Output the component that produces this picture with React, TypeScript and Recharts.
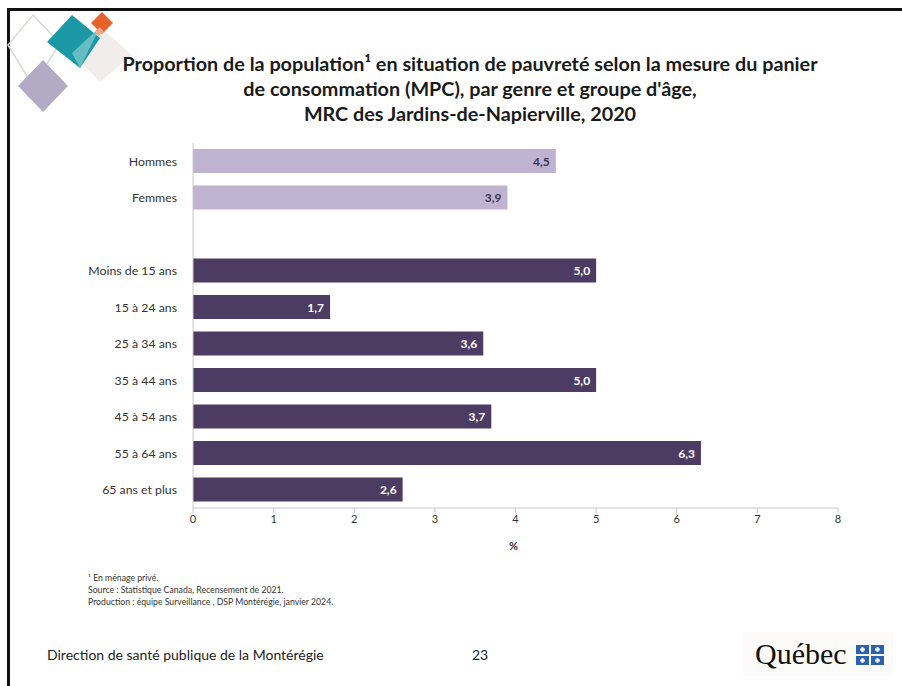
import React from "react";
import { BarChart, Bar, XAxis, YAxis, Cell, LabelList } from "recharts";

const categories = [
  "Hommes",
  "Femmes",
  "",
  "Moins de 15 ans",
  "15 à 24 ans",
  "25 à 34 ans",
  "35 à 44 ans",
  "45 à 54 ans",
  "55 à 64 ans",
  "65 ans et plus",
];
const values = [4.5, 3.9, null, 5.0, 1.7, 3.6, 5.0, 3.7, 6.3, 2.6];
const groups = ["genre", "genre", "", "age", "age", "age", "age", "age", "age", "age"];
const xTicks = [0, 1, 2, 3, 4, 5, 6, 7, 8];

const LIGHT = "#c0b2d1";
const DARK = "#4c3b63";
const FONT = "Lato, 'Open Sans', sans-serif";

const data = categories.map((name, i) => ({ name, value: values[i], group: groups[i] }));

const ValueLabel = (props: any) => {
  const { x, y, width, height, value, index } = props;
  if (value == null) return null;
  const light = data[index].group === "genre";
  return (
    <text
      x={x + width - 6}
      y={y + height / 2}
      textAnchor="end"
      dominantBaseline="central"
      fontFamily={FONT}
      fontSize={12}
      fontWeight="bold"
      fill={light ? "#3d3748" : "#ffffff"}
    >
      {value.toFixed(1).replace(".", ",")}
    </text>
  );
};

function Decor() {
  return (
    <svg width={150} height={120} style={{ position: "absolute", left: 0, top: 0 }}>
      <polygon points="33,15 60,43 33,86 8,45" fill="none" stroke="#d6dccf" strokeWidth={1.5} />
      <polygon points="100,27 132,55 100,82 72,53" fill="#eeebe8" opacity={0.9} />
      <polygon points="72,15 100,38 80,68 47,42" fill="#1a98a6" />
      <polygon points="100,27 80,68 72,53 86,40" fill="#6fc2c9" opacity={0.9} />
      <polygon points="102,12 113,23 102,34 91,23" fill="#e8632b" />
      <polygon points="100,27 104,32 98,36 95,31" fill="#f0a88a" />
      <polygon points="43,60 68,86 43,112 18,86" fill="#b3aac6" />
    </svg>
  );
}

function QuebecLogo() {
  const sq = (x: number, y: number) => (
    <g key={`${x}-${y}`}>
      <rect x={x} y={y} width={13} height={9} fill="#2a62b0" />
      <rect x={x + 5.5} y={y + 2} width={2} height={5} fill="#fff" />
      <rect x={x + 4} y={y + 3.5} width={5} height={2} fill="#fff" />
    </g>
  );
  return (
    <div style={{ position: "absolute", left: 743, top: 632, width: 150, height: 44, background: "#fcfbf9" }}>
      <span
        style={{
          position: "absolute",
          left: 12,
          top: 4,
          fontFamily: "'Liberation Serif', 'DejaVu Serif', serif",
          fontSize: 30,
          color: "#111",
          lineHeight: "36px",
        }}
      >
        Québec
      </span>
      <svg width={30} height={22} style={{ position: "absolute", left: 113, top: 13 }}>
        {sq(0, 0)}
        {sq(15, 0)}
        {sq(0, 11)}
        {sq(15, 11)}
      </svg>
    </div>
  );
}

export default function App() {
  return (
    <div
      style={{
        position: "absolute",
        left: 0,
        top: 0,
        width: 902,
        height: 686,
        background: "#fff",
        overflow: "hidden",
        fontFamily: FONT,
      }}
    >
      <div style={{ position: "absolute", left: 7, top: 8, width: 895, height: 2.5, background: "#111" }} />
      <div style={{ position: "absolute", left: 7, top: 8, width: 2.5, height: 678, background: "#111" }} />
      <Decor />
      <div
        style={{
          position: "absolute",
          left: 90,
          top: 51,
          width: 760,
          textAlign: "center",
          fontWeight: "bold",
          fontSize: 19.8,
          lineHeight: "25px",
          color: "#1a1a1a",
        }}
      >
        Proportion de la population¹ en situation de pauvreté selon la mesure du panier
        <br />
        de consommation (MPC), par genre et groupe d'âge,
        <br />
        MRC des Jardins-de-Napierville, 2020
      </div>
      <div style={{ position: "absolute", left: 0, top: 0 }}>
        <BarChart
          width={902}
          height={686}
          data={data}
          layout="vertical"
          margin={{ top: 143, right: 64, bottom: 148, left: 63 }}
          barCategoryGap={12}
        >
          <XAxis
            type="number"
            domain={[0, 8]}
            ticks={xTicks}
            height={30}
            axisLine={{ stroke: "#c8c8c8" }}
            tickLine={{ stroke: "#c8c8c8" }}
            tickSize={5}
            tick={{ fill: "#333", fontSize: 11, fontFamily: FONT }}
            interval={0}
          />
          <YAxis
            type="category"
            dataKey="name"
            width={130}
            axisLine={{ stroke: "#c8c8c8" }}
            tickLine={false}
            tickMargin={10}
            tick={{ fill: "#333", fontSize: 12.3, fontFamily: FONT }}
            interval={0}
          />
          <Bar dataKey="value" barSize={24} isAnimationActive={false}>
            {data.map((d, i) => (
              <Cell key={`cell-${i}`} fill={d.group === "genre" ? LIGHT : DARK} />
            ))}
            <LabelList dataKey="value" content={<ValueLabel />} />
          </Bar>
        </BarChart>
      </div>
      <div
        style={{
          position: "absolute",
          left: 509,
          top: 539,
          fontSize: 11,
          fontWeight: "bold",
          color: "#333",
        }}
      >
        %
      </div>
      <div style={{ position: "absolute", left: 88, top: 572, fontSize: 8.7, lineHeight: "12px", color: "#333" }}>
        <div>¹ En ménage privé.</div>
        <div>Source : Statistique Canada, Recensement de 2021.</div>
        <div>Production : équipe Surveillance , DSP Montérégie, janvier 2024.</div>
      </div>
      <div style={{ position: "absolute", left: 47, top: 646, fontSize: 14, color: "#222" }}>
        Direction de santé publique de la Montérégie
      </div>
      <div style={{ position: "absolute", left: 472, top: 646, fontSize: 14, color: "#222" }}>23</div>
      <QuebecLogo />
    </div>
  );
}
